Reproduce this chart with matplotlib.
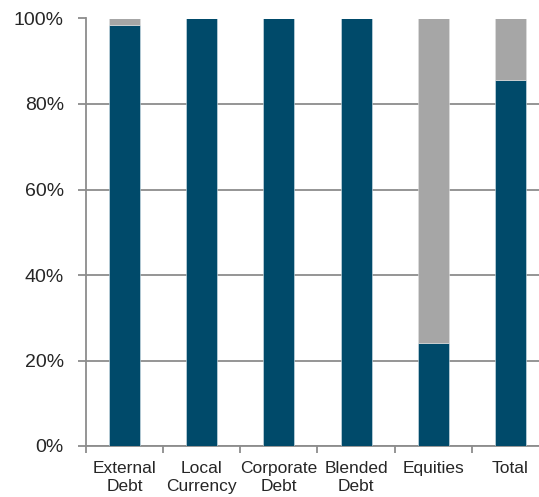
import matplotlib.pyplot as plt
from matplotlib.ticker import FuncFormatter

categories = ["External\nDebt", "Local\nCurrency", "Corporate\nDebt",
              "Blended\nDebt", "Equities", "Total"]
main_share = [98.4, 100, 100, 100, 24, 85.5]
other_share = [100 - v for v in main_share]

teal = "#004A6A"
grey = "#A6A6A6"
axis_grey = "#8C8C8C"

plt.rcParams["font.family"] = ["Liberation Sans", "DejaVu Sans"]

fig = plt.figure(figsize=(5.39, 4.97), dpi=100)
ax = fig.add_axes([86 / 539, 51 / 497, 463 / 539, 427.5 / 497])

x = range(len(categories))
ax.bar(x, main_share, width=0.4, color=teal, edgecolor="#D8E4EA", linewidth=0.4, zorder=3)
ax.bar(x, other_share, width=0.4, bottom=main_share, color=grey,
       edgecolor="#E0E0E0", linewidth=0.4, zorder=3)

ax.set_xlim(-0.5, len(categories) - 0.5)
ax.set_ylim(0, 100)
ax.set_yticks(range(0, 101, 20))
ax.yaxis.set_major_formatter(FuncFormatter(lambda v, p: f"{v:.0f}%"))
ax.yaxis.grid(True, color=axis_grey, linewidth=1.3, zorder=0)

# category labels centred, tick marks at the boundaries
ax.set_xticks(list(x))
ax.set_xticklabels(categories, fontsize=12.5, color="#262626", linespacing=1.2)
ax.set_xticks([i - 0.5 for i in range(len(categories) + 1)], minor=True)
ax.tick_params(axis="x", which="major", length=0, pad=11)
ax.tick_params(axis="x", which="minor", length=5, width=1.3, color=axis_grey)
ax.tick_params(axis="y", length=6, width=1.3, color=axis_grey, labelsize=14,
               labelcolor="#262626", pad=10)

for side in ("top", "right"):
    ax.spines[side].set_visible(False)
for side in ("left", "bottom"):
    ax.spines[side].set_color(axis_grey)
    ax.spines[side].set_linewidth(1.3)

fig.savefig("out.png", dpi=100)
